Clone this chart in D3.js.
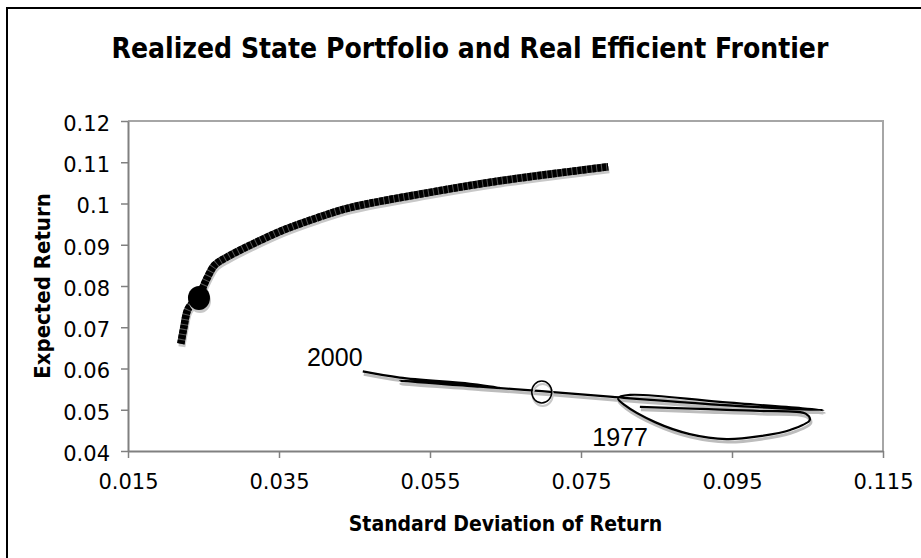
<!DOCTYPE html>
<html><head><meta charset="utf-8">
<script src="https://cdn.jsdelivr.net/npm/d3@7"></script>
<style>body{margin:0;background:#fff}svg{display:block}</style>
</head><body>
<svg id="c" width="921" height="558"></svg>
<script>
const xTicks = [0.015, 0.035, 0.055, 0.075, 0.095, 0.115];
const yTicks = [0.04, 0.05, 0.06, 0.07, 0.08, 0.09, 0.1, 0.11, 0.12];
const frontierSD  = [0.0220,0.0224,0.0229,0.0238,0.0246,0.0255,0.0265,0.0281,0.0312,0.0355,0.0400,0.0444,0.0550,0.0643,0.0786];
const frontierRet = [0.0660,0.0700,0.0742,0.0765,0.0785,0.0820,0.0851,0.0870,0.0899,0.0935,0.0965,0.0990,0.1027,0.1055,0.1089];
const optimalSD = [0.0244], optimalRet = [0.0771];
const realizedSD  = [0.0828,0.0908,0.0987,0.1048,0.1053,0.1027,0.0987,0.0943,0.0894,0.0848,0.0808,0.0799,0.0815,0.0934,0.1071,0.0934,0.0792,0.0698,0.0616,0.0510,0.0563,0.0643,0.0603,0.0510,0.0461];
const realizedRet = [0.0507,0.0502,0.0497,0.0490,0.0475,0.0451,0.0436,0.0429,0.0441,0.0470,0.0511,0.0528,0.0536,0.0519,0.0499,0.0512,0.0531,0.0545,0.0556,0.0570,0.0566,0.0553,0.0563,0.0578,0.0593];
const currentSD = [0.0698], currentRet = [0.0543];
const yearLabels = ["2000", "1977"];
const yearSD  = [0.0387, 0.0765];
const yearRet = [0.0606, 0.0412];

const svg = d3.select("#c");
const L = 128, R = 883, T = 121, B = 451;
const x = d3.scaleLinear().domain([0.015, 0.115]).range([L, R]);
const y = d3.scaleLinear().domain([0.04, 0.12]).range([B, T]);
const condBold = "'DejaVu Sans Condensed','DejaVu Sans',sans-serif";

// outer frame
svg.append("rect").attr("x", 7).attr("y", 8).attr("width", 930).attr("height", 570)
  .attr("fill", "none").attr("stroke", "#000").attr("stroke-width", 2);

// title
svg.append("text").attr("x", 470).attr("y", 58).attr("text-anchor", "middle")
  .style("font-family", condBold).style("font-stretch", "condensed")
  .style("font-weight", "bold").style("font-size", "28px").text("Realized State Portfolio and Real Efficient Frontier");

// plot frame top/right
svg.append("path").attr("d", `M${L},${T}H${R}V${B}`).attr("fill", "none").attr("stroke", "#a6a6a6").attr("stroke-width", 2);

// axes
const xAxis = d3.axisBottom(x).tickValues(xTicks).tickSize(7).tickSizeOuter(0).tickFormat(d3.format(".3f"));
const yAxis = d3.axisLeft(y).tickValues(yTicks).tickSize(7).tickSizeOuter(0).tickFormat(d => +d.toFixed(2) + "");
const gx = svg.append("g").attr("transform", `translate(0,${B})`).call(xAxis);
const gy = svg.append("g").attr("transform", `translate(${L},0)`).call(yAxis);
[gx, gy].forEach(g => {
  g.select(".domain").attr("stroke", "#808080").attr("stroke-width", 2);
  g.selectAll(".tick line").attr("stroke", "#808080").attr("stroke-width", 1.5);
  g.selectAll("text").attr("fill", "#000").style("font-family", "'DejaVu Sans',sans-serif").style("font-size", "21px");
});
gx.selectAll("text").attr("dy", null).attr("y", 38);
gy.selectAll("text").attr("x", -18).attr("dy", "0.45em");

// axis titles
svg.append("text").attr("x", (L + R) / 2).attr("y", 531).attr("text-anchor", "middle")
  .style("font-family", condBold).style("font-stretch", "condensed")
  .style("font-weight", "bold").style("font-size", "21px").text("Standard Deviation of Return");
svg.append("text").attr("transform", `translate(50,${(T + B) / 2}) rotate(-90)`).attr("text-anchor", "middle")
  .style("font-family", condBold).style("font-stretch", "condensed")
  .style("font-weight", "bold").style("font-size", "22px").text("Expected Return");

// frontier
const fr = frontierSD.map((s, i) => [s, frontierRet[i]]);
const lineC = d3.line().x(d => x(d[0])).y(d => y(d[1])).curve(d3.curveCatmullRom.alpha(0.5));
svg.append("path").attr("d", lineC(fr)).attr("transform", "translate(1,3)")
  .attr("fill", "none").attr("stroke", "#c8c8c8").attr("stroke-width", 7);
svg.append("path").attr("d", lineC(fr)).attr("fill", "none").attr("stroke", "#555").attr("stroke-width", 7.5);
svg.append("path").attr("d", lineC(fr)).attr("fill", "none").attr("stroke", "#000").attr("stroke-width", 7.5)
  .attr("stroke-dasharray", "4,1");

// optimal point
svg.append("ellipse").attr("cx", x(optimalSD[0]) + 1).attr("cy", y(optimalRet[0]) + 3).attr("rx", 11).attr("ry", 12).attr("fill", "#c8c8c8");
svg.append("ellipse").attr("cx", x(optimalSD[0])).attr("cy", y(optimalRet[0])).attr("rx", 11).attr("ry", 12).attr("fill", "#000");

// realized path
const rp = realizedSD.map((s, i) => [s, realizedRet[i]]);
svg.append("path").attr("d", lineC(rp)).attr("transform", "translate(1,3)")
  .attr("fill", "none").attr("stroke", "#bdbdbd").attr("stroke-width", 3);
svg.append("path").attr("d", lineC(rp)).attr("fill", "none").attr("stroke", "#000").attr("stroke-width", 2.2);

// current point circle
const cx = x(currentSD[0]), cy = y(currentRet[0]);
svg.append("ellipse").attr("cx", cx + 1).attr("cy", cy + 3).attr("rx", 10).attr("ry", 11).attr("fill", "none").attr("stroke", "#c8c8c8").attr("stroke-width", 2);
svg.append("ellipse").attr("cx", cx).attr("cy", cy).attr("rx", 10).attr("ry", 11).attr("fill", "none").attr("stroke", "#000").attr("stroke-width", 1.5);

// year labels
svg.selectAll(".yl").data(yearLabels).enter().append("text").attr("class", "yl")
  .attr("x", (d, i) => x(yearSD[i])).attr("y", (d, i) => y(yearRet[i]))
  .style("font-family", "'Liberation Sans',Arial,sans-serif").style("font-size", "25px").text(d => d);
</script>
</body></html>
